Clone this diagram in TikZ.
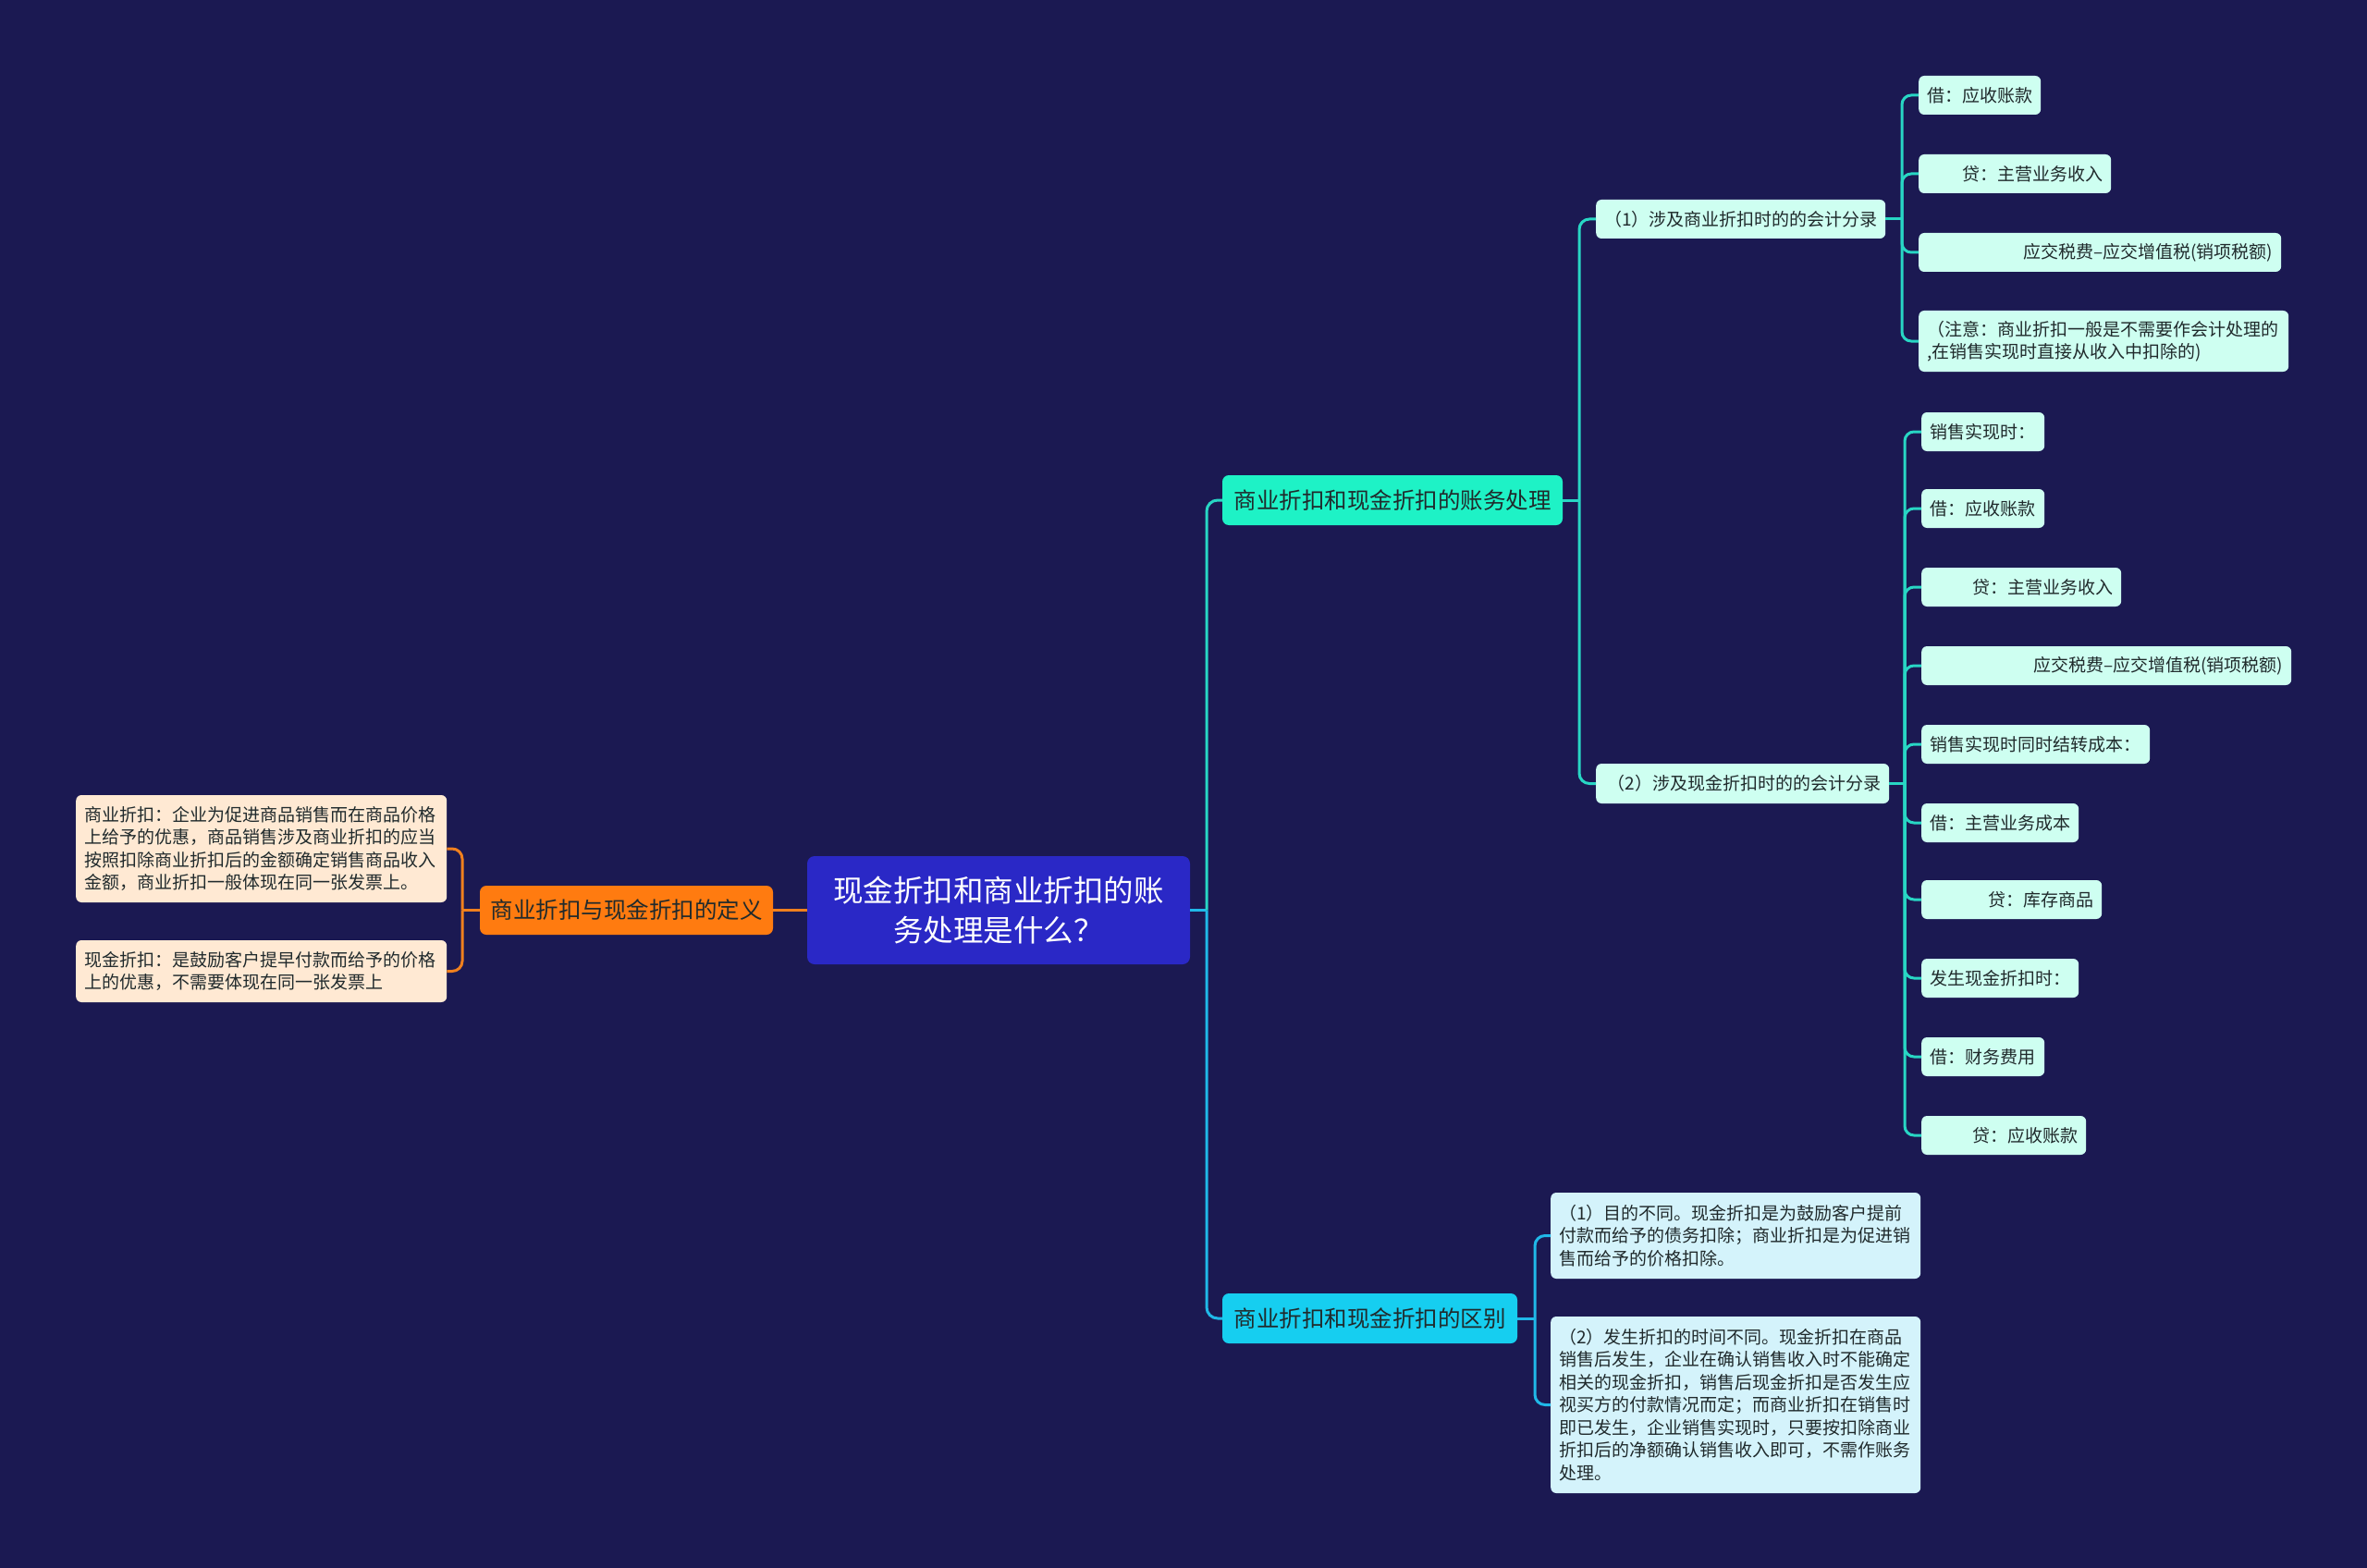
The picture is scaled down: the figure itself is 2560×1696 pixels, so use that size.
\documentclass[tikz,border=0pt]{standalone}
\usepackage{fontspec}
\setmainfont{Noto Sans CJK SC}
\definecolor{bg}{RGB}{27,25,82}
\definecolor{rootfill}{RGB}{42,40,198}
\definecolor{orfill}{RGB}{255,123,16}
\definecolor{peach}{RGB}{255,233,211}
\definecolor{minttop}{RGB}{30,242,198}
\definecolor{mintleaf}{RGB}{206,255,241}
\definecolor{skytop}{RGB}{22,206,240}
\definecolor{skyleaf}{RGB}{212,243,251}
\definecolor{txt}{RGB}{32,42,44}
\definecolor{lineT}{RGB}{40,214,196}
\definecolor{lineB}{RGB}{32,184,232}
\definecolor{lineO}{RGB}{240,128,30}
\tikzset{
  boxbase/.style={rounded corners=6pt, inner xsep=9pt, inner ysep=0pt, text=txt,
    font=\fontsize{19}{24.5}\selectfont},
  rootbox/.style={boxbase, fill=rootfill, text=white, rounded corners=8pt,
    font=\fontsize{32.5}{43}\selectfont, align=center},
  orbox/.style={boxbase, fill=orfill, rounded corners=7pt, font=\fontsize{24.5}{30}\selectfont},
  tealbox/.style={boxbase, fill=minttop, rounded corners=7pt, font=\fontsize{24.5}{30}\selectfont},
  skybox/.style={boxbase, fill=skytop, rounded corners=7pt, font=\fontsize{24.5}{30}\selectfont},
  peachleaf/.style={boxbase, fill=peach},
  mintnode/.style={boxbase, fill=mintleaf},
  skynode/.style={boxbase, fill=skyleaf},
  conn/.style={line width=3pt},
  cT/.style={conn, draw=lineT},
  cB/.style={conn, draw=lineB},
  cO/.style={conn, draw=lineO},
}
\begin{document}
\begin{tikzpicture}[x=1pt, y=-1pt]
\fill[bg] (0,0) rectangle (2560,1696);
\useasboundingbox (0,0) rectangle (2560,1696);

% root and first level
\node[rootbox, minimum width=414pt, minimum height=117pt, text width=396pt] (root) at (1080,984.5)
  {现金折扣和商业折扣的账\\务处理是什么？};
\node[orbox, minimum width=317pt, minimum height=53pt] (or) at (677.5,984.5) {商业折扣与现金折扣的定义};
\node[tealbox, minimum width=368pt, minimum height=54pt] (b1) at (1506,541) {商业折扣和现金折扣的账务处理};
\node[skybox, minimum width=319pt, minimum height=54pt] (b2) at (1481.5,1426) {商业折扣和现金折扣的区别};

% definitions
\node[peachleaf, anchor=west, text width=383pt, minimum height=116pt, align=left] (d1) at (82,918)
  {商业折扣：企业为促进商品销售而在商品价格\\上给予的优惠，商品销售涉及商业折扣的应当\\按照扣除商业折扣后的金额确定销售商品收入\\金额，商业折扣一般体现在同一张发票上。};
\node[peachleaf, anchor=west, text width=383pt, minimum height=67pt, align=left] (d2) at (82,1050.5)
  {现金折扣：是鼓励客户提早付款而给予的价格\\上的优惠，不需要体现在同一张发票上};

% sub nodes of b1
\node[mintnode, anchor=west, text width=295pt, minimum height=42pt, align=right] (s1) at (1726,237)
  {（1）涉及商业折扣时的的会计分录};
\node[mintnode, anchor=west, text width=299pt, minimum height=43pt, align=right] (s2) at (1726,847.5)
  {（2）涉及现金折扣时的的会计分录};

% leaves of s1
\node[mintnode, anchor=west, text width=114pt, minimum height=42pt, align=left] (a1) at (2075,103) {借：应收账款};
\node[mintnode, anchor=west, text width=190pt, minimum height=42pt, align=right] (a2) at (2075,188) {贷：主营业务收入};
\node[mintnode, anchor=west, text width=374pt, minimum height=42pt, align=right] (a3) at (2075,273) {应交税费–应交增值税(销项税额)};
\node[mintnode, anchor=west, text width=382pt, minimum height=66pt, align=left] (a4) at (2075,369)
  {（注意：商业折扣一般是不需要作会计处理的\\,在销售实现时直接从收入中扣除的)};

% leaves of s2
\node[mintnode, anchor=west, text width=115pt, minimum height=42pt, align=left] (c1) at (2078,467) {销售实现时：};
\node[mintnode, anchor=west, text width=115pt, minimum height=42pt, align=left] (c2) at (2078,550) {借：应收账款};
\node[mintnode, anchor=west, text width=198pt, minimum height=42pt, align=right] (c3) at (2078,635) {贷：主营业务收入};
\node[mintnode, anchor=west, text width=382pt, minimum height=42pt, align=right] (c4) at (2078,720) {应交税费–应交增值税(销项税额)};
\node[mintnode, anchor=west, text width=229pt, minimum height=42pt, align=left] (c5) at (2078,805) {销售实现时同时结转成本：};
\node[mintnode, anchor=west, text width=152pt, minimum height=42pt, align=left] (c6) at (2078,890) {借：主营业务成本};
\node[mintnode, anchor=west, text width=177pt, minimum height=42pt, align=right] (c7) at (2078,973) {贷：库存商品};
\node[mintnode, anchor=west, text width=152pt, minimum height=42pt, align=left] (c8) at (2078,1058) {发生现金折扣时：};
\node[mintnode, anchor=west, text width=115pt, minimum height=42pt, align=left] (c9) at (2078,1143) {借：财务费用};
\node[mintnode, anchor=west, text width=160pt, minimum height=42pt, align=right] (c10) at (2078,1228) {贷：应收账款};

% leaves of b2
\node[skynode, anchor=west, text width=382pt, minimum height=93pt, align=left] (e1) at (1677,1336.5)
  {（1）目的不同。现金折扣是为鼓励客户提前\\付款而给予的债务扣除；商业折扣是为促进销\\售而给予的价格扣除。};
\node[skynode, anchor=west, text width=382pt, minimum height=191pt, align=left] (e2) at (1677,1519.5)
  {（2）发生折扣的时间不同。现金折扣在商品\\销售后发生，企业在确认销售收入时不能确定\\相关的现金折扣，销售后现金折扣是否发生应\\视买方的付款情况而定；而商业折扣在销售时\\即已发生，企业销售实现时，只要按扣除商业\\折扣后的净额确认销售收入即可，不需作账务\\处理。};

% spine coordinates
\coordinate (sR) at (1305,0);
\coordinate (sL) at (500,0);
\coordinate (sB1) at (1708,0);
\coordinate (sB2) at (1660,0);
\coordinate (sS1) at (2057,0);
\coordinate (sS2) at (2060,0);

% root connectors
\draw[cO] (root.west) -- (or.east);
\draw[cB] (root.east) -- (root.east -| sR);
\draw[cT, rounded corners=12pt] (root.east -| sR) |- (b1.west);
\draw[cB, rounded corners=12pt] (root.east -| sR) |- (b2.west);

% definitions
\draw[cO] (or.west) -- (or.west -| sL);
\foreach \n in {d1,d2} \draw[cO, rounded corners=11pt] (or.west -| sL) |- (\n.east);

% b1
\draw[cT] (b1.east) -- (b1.east -| sB1);
\foreach \n in {s1,s2} \draw[cT, rounded corners=11pt] (b1.east -| sB1) |- (\n.west);
\draw[cT] (s1.east) -- (s1.east -| sS1);
\foreach \n in {a1,a2,a3,a4} \draw[cT, rounded corners=10pt] (s1.east -| sS1) |- (\n.west);
\draw[cT] (s2.east) -- (s2.east -| sS2);
\foreach \n in {c1,c2,c3,c4,c5,c6,c7,c8,c9,c10} \draw[cT, rounded corners=10pt] (s2.east -| sS2) |- (\n.west);

% b2
\draw[cB] (b2.east) -- (b2.east -| sB2);
\foreach \n in {e1,e2} \draw[cB, rounded corners=11pt] (b2.east -| sB2) |- (\n.west);
\end{tikzpicture}
\end{document}
